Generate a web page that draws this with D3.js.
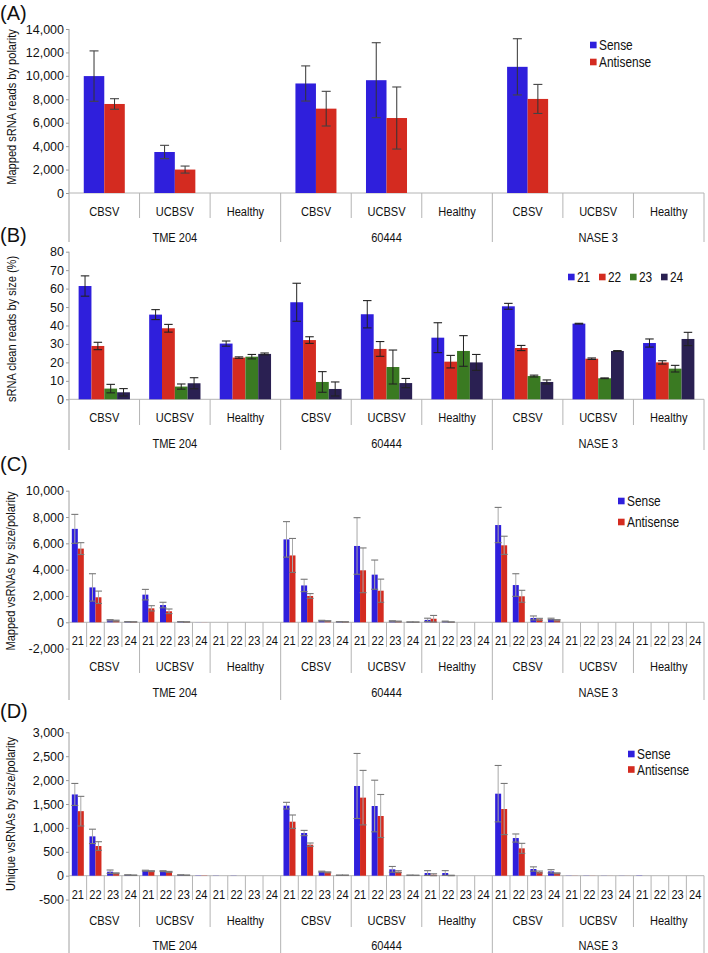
<!DOCTYPE html>
<html><head><meta charset="utf-8">
<script src="https://cdn.jsdelivr.net/npm/d3@7"></script>
<style>
body{margin:0;background:#fff;}
svg{display:block;}
</style></head>
<body>
<svg id="chart" width="708" height="953"></svg>
<script>
// ---------- shared categories ----------
const groups = ["TME 204", "60444", "NASE 3"];
const categories = ["CBSV", "UCBSV", "Healthy"];
const sizes = ["21", "22", "23", "24"];
const polarity = ["Sense", "Antisense"];

// ---------- Panel A: mapped sRNA reads by polarity (9 = group x category) ----------
const aTicks = [0, 2000, 4000, 6000, 8000, 10000, 12000, 14000];
const aSense     = [9980, 3500, 0, 9350, 9630, 0, 10770, 0, 0];
const aSenseErr  = [2150, 570, 0, 1500, 3200, 0, 2400, 0, 0];
const aAnti      = [7600, 2000, 0, 7200, 6400, 0, 8030, 0, 0];
const aAntiErr   = [450, 300, 0, 1480, 2650, 0, 1240, 0, 0];

// ---------- Panel B: sRNA clean reads by size (%) ----------
const bTicks = [0, 10, 20, 30, 40, 50, 60, 70, 80];
const b21    = [61.4, 45.9, 30.2, 52.6, 46.1, 33.4, 50.4, 41.0, 30.5];
const b21Err = [5.5, 2.7, 1.4, 10.3, 7.4, 8.1, 1.6, 0.2, 2.2];
const b22    = [28.9, 38.5, 22.6, 32.1, 27.3, 20.4, 27.8, 22.0, 20.0];
const b22Err = [2.0, 2.1, 0.4, 1.8, 4.0, 3.4, 1.4, 0.4, 0.9];
const b23    = [5.8, 6.9, 23.1, 9.4, 17.5, 26.2, 12.6, 11.4, 16.6];
const b23Err = [2.3, 1.4, 1.2, 5.6, 9.2, 8.3, 0.5, 0.2, 1.8];
const b24    = [3.8, 8.7, 24.6, 5.6, 8.8, 20.0, 9.4, 26.2, 32.7];
const b24Err = [2.0, 3.0, 0.5, 3.8, 2.5, 4.3, 1.1, 0.2, 3.6];

// ---------- Panel C: mapped vsRNAs by size/polarity (36 = group x category x size) ----------
const cTicks = [-2000, 0, 2000, 4000, 6000, 8000, 10000];
const cSense = [
  7100, 2650, 150, 40,   2100, 1310, 40, 5,   0, 0, 0, 0,
  6300, 2800, 120, 40,   5800, 3620, 80, 20,  180, 60, 0, 0,
  7390, 2830, 330, 250,  0, 0, 0, 0,          0, 0, 0, 0];
const cSenseErr = [
  1100, 1040, 50, 10,    400, 210, 10, 0,     0, 0, 0, 0,
  1350, 470, 30, 10,     2150, 1110, 40, 5,   130, 30, 0, 0,
  1340, 860, 150, 60,    0, 0, 0, 0,          0, 0, 0, 0];
const cAnti = [
  5600, 1900, 120, 30,   1060, 835, 25, 5,    0, 0, 0, 0,
  5080, 2000, 100, 30,   3950, 2400, 60, 15,  270, 20, 0, 0,
  5850, 1975, 230, 150,  0, 0, 0, 0,          0, 0, 0, 0];
const cAntiErr = [
  450, 470, 40, 10,      200, 175, 10, 0,     0, 0, 0, 0,
  1290, 180, 20, 10,     1700, 880, 30, 5,    250, 10, 0, 0,
  690, 455, 70, 50,      0, 0, 0, 0,          0, 0, 0, 0];

// ---------- Panel D: unique vsRNAs by size/polarity ----------
const dTicks = [-500, 0, 500, 1000, 1500, 2000, 2500, 3000];
const dSense = [
  1700, 823, 84, 15,     105, 95, 15, 5,      3, 3, 0, 0,
  1465, 893, 85, 10,     1877, 1458, 133, 10, 56, 56, 0, 0,
  1716, 788, 140, 91,    3, 3, 2, 2,          5, 0, 0, 0];
const dSenseErr = [
  230, 150, 35, 5,       10, 10, 5, 0,        0, 0, 0, 0,
  70, 55, 10, 3,         680, 540, 60, 3,     50, 50, 0, 0,
  590, 85, 45, 35,       0, 0, 0, 0,          0, 0, 0, 0];
const dAnti = [
  1350, 621, 50, 10,     95, 80, 10, 5,       0, 0, 0, 0,
  1130, 649, 70, 10,     1633, 1249, 84, 8,   20, 5, 0, 0,
  1395, 572, 77, 50,     2, 2, 1, 1,          0, 0, 0, 0];
const dAntiErr = [
  310, 90, 10, 5,        10, 10, 5, 0,        0, 0, 0, 0,
  140, 35, 10, 3,        570, 450, 20, 3,     20, 5, 0, 0,
  535, 105, 20, 10,      0, 0, 0, 0,          0, 0, 0, 0];

// ---------- styling ----------
const BLUE = "#2f1fdc", RED = "#d42b20", GREEN = "#3a7a22", NAVY = "#2a2052";
const FONT = "'Liberation Sans', Arial, Helvetica, sans-serif";
const SQ = 0.82; // horizontal condensing of the narrow-looking labels
const SEP = "#b4b4b4";
const X0 = 69, X1 = 704;

const fmt = d3.formatLocale({decimal: ".", thousands: ",", grouping: [3], currency: ["", ""], minus: "-"}).format(",");

const svg = d3.select("#chart");

// condensed text helper
function ntext(parent, x, y, t, size, anchor, rot) {
  return parent.append("text")
    .attr("transform", `translate(${x},${y})${rot ? ` rotate(${rot})` : ""} scale(${SQ},1)`)
    .attr("text-anchor", anchor || "middle").attr("dy", "0.35em").text(t)
    .attr("font-family", FONT).attr("font-size", size).attr("fill", "#111");
}

function drawPanel(p) {
  const g = svg.append("g");
  const y = d3.scaleLinear().domain([p.yMin, p.yMax]).range([p.yBot, p.yTop]);
  const nSlots = p.mode === "cat" ? groups.length * categories.length
                                  : groups.length * categories.length * sizes.length;
  const x = d3.scaleBand().domain(d3.range(nSlots)).range([X0, X1]).padding(0);
  const inner = d3.scaleBand().domain(d3.range(p.series.length))
    .range([0, x.bandwidth()]).paddingInner(0).paddingOuter(p.pad);

  // panel label
  g.append("text").attr("x", 0).attr("y", p.labelY).text(p.label)
    .attr("font-family", FONT).attr("font-size", 20).attr("fill", "#111");

  // y title
  ntext(g, p.titleX, p.titleY, p.title, 13.5, "middle", -90);

  // y axis
  const ax = g.append("g").attr("transform", `translate(${X0},0)`)
    .call(d3.axisLeft(y).tickValues(p.ticks).tickFormat(p.fmt || fmt).tickSize(3).tickPadding(2));
  ax.select(".domain").remove();
  ax.selectAll(".tick line").attr("stroke", "#999");
  ax.selectAll(".tick text").attr("font-family", FONT).attr("font-size", 12.5).attr("fill", "#111");

  // axis line spanning down through label rows
  g.append("line").attr("x1", X0).attr("x2", X0).attr("y1", y(p.yMax)).attr("y2", p.rows.grpSep)
    .attr("stroke", "#a0a0a0");
  // baseline
  g.append("line").attr("x1", X0).attr("x2", X1).attr("y1", y(0)).attr("y2", y(0))
    .attr("stroke", SEP);

  // bars
  p.series.forEach((s, si) => {
    g.append("g").selectAll("rect").data(s.values).join("rect")
      .attr("x", (d, i) => x(i) + inner(si))
      .attr("width", inner.bandwidth())
      .attr("y", d => y(Math.max(0, d)))
      .attr("height", d => Math.abs(y(d) - y(0)))
      .attr("fill", s.color);
  });
  // error bars
  p.series.forEach((s, si) => {
    const eg = g.append("g");
    s.values.forEach((v, i) => {
      const e = s.errs[i];
      if (!e) return;
      const cx = x(i) + inner(si) + inner.bandwidth() / 2;
      const hw = p.capW / 2;
      eg.append("line").attr("x1", cx).attr("x2", cx).attr("y1", y(v + e)).attr("y2", y(v - e))
        .attr("stroke", p.whisker).attr("stroke-width", 1);
      [v + e, v - e].forEach(t => {
        eg.append("line").attr("x1", cx - hw).attr("x2", cx + hw).attr("y1", y(t)).attr("y2", y(t))
          .attr("stroke", p.cap).attr("stroke-width", 1.1);
      });
    });
  });

  const catStep = (X1 - X0) / (groups.length * categories.length);
  const grpStep = (X1 - X0) / groups.length;
  const vline = (xx, y2) => g.append("line").attr("x1", xx).attr("x2", xx).attr("y1", y(0)).attr("y2", y2)
    .attr("stroke", SEP);

  // size row
  if (p.mode === "size") {
    d3.range(nSlots).forEach(i => {
      ntext(g, x(i) + x.bandwidth() / 2, p.rows.sizeY, sizes[i % sizes.length], 13.5);
      if (i > 0 && i % sizes.length !== 0) vline(x(i), p.rows.sizeSep);
    });
  }
  // category row
  d3.range(groups.length * categories.length).forEach(i => {
    ntext(g, X0 + catStep * (i + 0.5), p.rows.catY, categories[i % categories.length], 13.5);
    if (i > 0 && i % categories.length !== 0) vline(X0 + catStep * i, p.rows.catSep);
  });
  // group row
  groups.forEach((gName, i) => {
    ntext(g, X0 + grpStep * (i + 0.5), p.rows.grpY, gName, 13.5);
    if (i > 0) vline(X0 + grpStep * i, p.rows.grpSep);
  });
  vline(X1, p.rows.grpSep);

  // legend
  p.legend.items.forEach((it, i) => {
    const lx = p.legend.x + (p.legend.dx || 0) * i;
    const ly = p.legend.y + (p.legend.dy || 0) * i;
    g.append("rect").attr("x", lx).attr("y", ly - 3.3).attr("width", 6.6).attr("height", 6.6).attr("fill", it.color);
    ntext(g, lx + 9, ly, it.name, 14.5, "start");
  });
}

const polLegend = [{name: polarity[0], color: BLUE}, {name: polarity[1], color: RED}];

drawPanel({
  label: "(A)", labelY: 20, title: "Mapped sRNA reads by polarity", titleX: 11, titleY: 107,
  yMin: 0, yMax: 14000, yBot: 193, yTop: 29, ticks: aTicks, mode: "cat", pad: 0.72,
  series: [{values: aSense, errs: aSenseErr, color: BLUE}, {values: aAnti, errs: aAntiErr, color: RED}],
  capW: 9, whisker: "#333", cap: "#444",
  rows: {catY: 211, catSep: 218, grpY: 237, grpSep: 242},
  legend: {x: 590, y: 45, dy: 17, items: polLegend}
});

drawPanel({
  label: "(B)", labelY: 242, title: "sRNA clean reads by size (%)", titleX: 11, titleY: 329,
  yMin: 0, yMax: 80, yBot: 399.3, yTop: 251.7, ticks: bTicks, mode: "cat", pad: 0.75,
  fmt: d3.format("d"),
  series: [{values: b21, errs: b21Err, color: BLUE}, {values: b22, errs: b22Err, color: RED},
           {values: b23, errs: b23Err, color: GREEN}, {values: b24, errs: b24Err, color: NAVY}],
  capW: 8.5, whisker: "#222", cap: "#222",
  rows: {catY: 417, catSep: 425, grpY: 443, grpSep: 450},
  legend: {x: 568, y: 277, dx: 31, items: sizes.map((s, i) => ({name: s, color: [BLUE, RED, GREEN, NAVY][i]}))}
});

drawPanel({
  label: "(C)", labelY: 471, title: "Mapped vsRNAs by size/polarity", titleX: 10, titleY: 571,
  yMin: -2000, yMax: 10000, yBot: 648.6, yTop: 490.7, ticks: cTicks, mode: "size", pad: 0.47,
  series: [{values: cSense, errs: cSenseErr, color: BLUE}, {values: cAnti, errs: cAntiErr, color: RED}],
  capW: 7, whisker: "#a8a8a8", cap: "#777",
  rows: {sizeY: 640, sizeSep: 647, catY: 666, catSep: 673, grpY: 692, grpSep: 700},
  legend: {x: 618, y: 501, dy: 21, items: polLegend}
});

drawPanel({
  label: "(D)", labelY: 718, title: "Unique vsRNAs by size/polarity", titleX: 10, titleY: 814,
  yMin: -500, yMax: 3000, yBot: 899.6, yTop: 732.3, ticks: dTicks, mode: "size", pad: 0.47,
  series: [{values: dSense, errs: dSenseErr, color: BLUE}, {values: dAnti, errs: dAntiErr, color: RED}],
  capW: 7, whisker: "#a8a8a8", cap: "#777",
  rows: {sizeY: 894, sizeSep: 900, catY: 920, catSep: 927, grpY: 945, grpSep: 953},
  legend: {x: 628, y: 754, dy: 15.5, items: polLegend}
});
</script>
</body></html>
